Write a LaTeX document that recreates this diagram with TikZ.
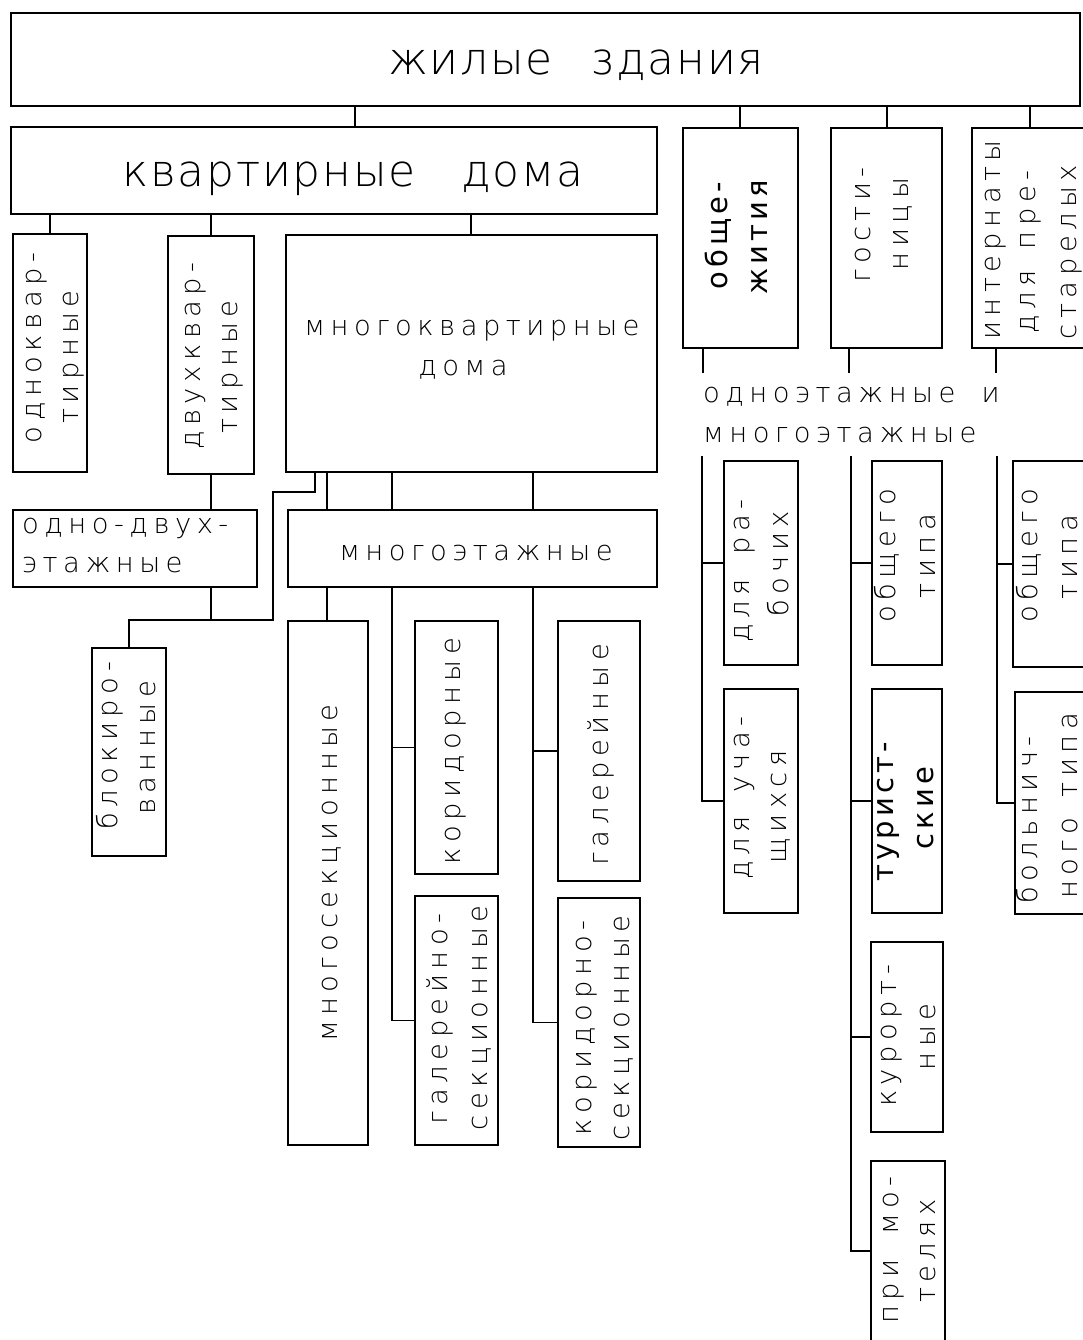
\documentclass[tikz,border=0pt]{standalone}
\usepackage{fontspec}
\IfFontExistsTF{DejaVu Sans ExtraLight}{%
  \newfontfamily\thinfont{DejaVu Sans ExtraLight}[LetterSpace=20]%
  \newfontfamily\bigfont{DejaVu Sans ExtraLight}[LetterSpace=4]%
}{%
  \newfontfamily\thinfont{DejaVu Sans}[LetterSpace=20]%
  \newfontfamily\bigfont{DejaVu Sans}[LetterSpace=4]%
}
\newfontfamily\heavyfont{DejaVu Sans}[LetterSpace=14]
\newcommand{\drawbox}[5]{%
  \pgfmathsetmacro{\bxcen}{(#2+#4)/2}%
  \pgfmathsetmacro{\bycen}{(#3+#5)/2}%
  \pgfmathsetmacro{\bwid}{#4-#2}%
  \pgfmathsetmacro{\bhei}{#5-#3}%
  \node[box, minimum width=\bwid pt, minimum height=\bhei pt] (#1) at (\bxcen,\bycen) {};}
\tikzset{
  box/.style={draw, line width=1.8pt, inner sep=0pt, outer sep=0pt},
  conn/.style={line width=1.8pt},
  txt/.style={inner sep=0pt, font=\thinfont\fontsize{27.4}{38}\selectfont},
  vtxt/.style={txt, rotate=90, anchor=base},
  htxt/.style={txt, anchor=base},
  btxt/.style={inner sep=0pt, rotate=90, anchor=base, font=\heavyfont\fontsize{29}{39}\selectfont},
  bigtxt/.style={inner sep=0pt, anchor=base, font=\bigfont\fontsize{44}{50}\selectfont}
}
\begin{document}
\begin{tikzpicture}[x=1pt,y=-1pt]
\useasboundingbox (0,0) rectangle (1082,1340);
\fill[white] (0,0) rectangle (1082,1340);
% boxes
\drawbox{T}{11}{13}{1080}{106}
\drawbox{K}{11}{127}{657}{214}
\drawbox{O}{683}{128}{798}{348}
\drawbox{G}{831}{128}{942}{348}
\drawbox{I}{972}{128}{1092}{348}
\drawbox{A1}{13}{234}{87}{472}
\drawbox{A2}{168}{236}{254}{474}
\drawbox{A3}{286}{235}{657}{472}
\drawbox{B1}{13}{510}{257}{587}
\drawbox{B2}{288}{510}{657}{587}
\drawbox{Bl}{92}{648}{166}{856}
\drawbox{C1}{288}{621}{368}{1145}
\drawbox{C2}{415}{621}{498}{874}
\drawbox{C3}{415}{896}{498}{1145}
\drawbox{C4}{558}{621}{640}{881}
\drawbox{C5}{558}{898}{640}{1147}
\drawbox{D1}{724}{461}{798}{665}
\drawbox{D2}{724}{689}{798}{913}
\drawbox{E1}{872}{461}{942}{665}
\drawbox{E2}{872}{689}{942}{913}
\drawbox{E3}{871}{942}{943}{1132}
\drawbox{E4}{871}{1161}{945}{1341}
\drawbox{F1}{1013}{461}{1092}{667}
\drawbox{F2}{1015}{692}{1092}{914}
% helper coordinates
\coordinate (x50) at (50,0);
\coordinate (x211) at (211,0);
\coordinate (x315) at (315,0);
\coordinate (x327) at (327,0);
\coordinate (x355) at (355,0);
\coordinate (x392) at (392,0);
\coordinate (x471) at (471,0);
\coordinate (x533) at (533,0);
\coordinate (x703) at (703,0);
\coordinate (x740) at (740,0);
\coordinate (x849) at (849,0);
\coordinate (x887) at (887,0);
\coordinate (x996) at (996,0);
\coordinate (x1030) at (1030,0);
\coordinate (k1) at (273,492);
\coordinate (k2) at (273,620);
\coordinate (o1) at (703,373);
\coordinate (o2) at (849,373);
\coordinate (o3) at (996,373);
\coordinate (r1) at (702,456);
\coordinate (r2) at (851,456);
\coordinate (r3) at (997,456);
% connectors
\draw[conn] (T.south -| x355) -- (K.north -| x355);
\draw[conn] (T.south -| x740) -- (O.north -| x740);
\draw[conn] (T.south -| x887) -- (G.north -| x887);
\draw[conn] (T.south -| x1030) -- (I.north -| x1030);
\draw[conn] (K.south -| x50) -- (A1.north -| x50);
\draw[conn] (K.south -| x211) -- (A2.north -| x211);
\draw[conn] (K.south -| x471) -- (A3.north -| x471);
\draw[conn] (A2.south -| x211) -- (B1.north -| x211);
\draw[conn] (A3.south -| x327) -- (B2.north -| x327);
\draw[conn] (A3.south -| x392) -- (B2.north -| x392);
\draw[conn] (A3.south -| x533) -- (B2.north -| x533);
\draw[conn] (A3.south -| x315) |- (k1) -- (k2) -| (Bl.north);
\draw[conn] (B1.south -| x211) |- (k2);
\draw[conn] (B2.south -| x327) -- (C1.north -| x327);
\draw[conn] (B2.south -| x392) |- (C3.west);
\draw[conn] (C2.west) -- (C2.west -| x392);
\draw[conn] (B2.south -| x533) |- (C5.west);
\draw[conn] (C4.west) -- (C4.west -| x533);
\draw[conn] (O.south -| x703) -- (o1);
\draw[conn] (G.south -| x849) -- (o2);
\draw[conn] (I.south -| x996) -- (o3);
\draw[conn] (r1) |- (D2.west);
\draw[conn] (D1.west) -- (D1.west -| r1);
\draw[conn] (r2) |- (E4.west);
\draw[conn] (E1.west) -- (E1.west -| r2);
\draw[conn] (E2.west) -- (E2.west -| r2);
\draw[conn] (E3.west) -- (E3.west -| r2);
\draw[conn] (r3) |- (F2.west);
\draw[conn] (F1.west) -- (F1.west -| r3);
% texts
\node[bigtxt] (tT) at (576,75) {жилые \hspace{22pt}здания};
\node[bigtxt] (tK) at (353,187) {квартирные \hspace{30pt}дома};
\node[vtxt] (tA1a) at (41,348) {одноквар-};
\node[vtxt] (tA1b) at (78,357) {тирные};
\node[vtxt] (tA2a) at (200,356) {двухквар-};
\node[vtxt] (tA2b) at (237,367) {тирные};
\node[htxt] (tA3a) at (472,335) {многоквартирные};
\node[htxt] (tA3b) at (463,375) {дома};
\node[htxt, anchor=base west] (tB1a) at (22,533) {одно-двух-};
\node[htxt, anchor=base west] (tB1b) at (22,572) {этажные};
\node[htxt] (tB2) at (476,560) {многоэтажные};
\node[vtxt] (tBla) at (117,746) {блокиро-};
\node[vtxt] (tBlb) at (155,748) {ванные};
\node[vtxt] (tC1) at (337,873) {многосекционные};
\node[vtxt] (tC2) at (460,751) {коридорные};
\node[vtxt] (tC3a) at (447,1019) {галерейно-};
\node[vtxt] (tC3b) at (487,1018) {секционные};
\node[vtxt] (tC4) at (608,755) {галерейные};
\node[vtxt] (tC5a) at (591,1028) {коридорно-};
\node[vtxt] (tC5b) at (629,1028) {секционные};
\node[btxt] (tOa) at (727,236) {обще-};
\node[btxt] (tOb) at (767,237) {жития};
\node[vtxt] (tGa) at (870,225) {гости-};
\node[vtxt] (tGb) at (908,224) {ницы};
\node[vtxt] (tIa) at (1000,240) {интернаты};
\node[vtxt] (tIb) at (1035,252) {для \hspace{7pt}пре-};
\node[vtxt] (tIc) at (1076,252) {старелых};
\node[htxt, anchor=base west] (tMa) at (703,402) {одноэтажные \hspace{12pt}и};
\node[htxt, anchor=base west] (tMb) at (703,442) {многоэтажные};
\node[vtxt] (tD1a) at (749,571) {для \hspace{10pt}ра-};
\node[vtxt] (tD1b) at (788,564) {бочих};
\node[vtxt] (tD2a) at (749,798) {для \hspace{10pt}уча-};
\node[vtxt] (tD2b) at (786,807) {щихся};
\node[vtxt] (tE1a) at (895,556) {общего};
\node[vtxt] (tE1b) at (935,556) {типа};
\node[btxt] (tE2a) at (893,812) {турист-};
\node[btxt] (tE2b) at (933,808) {ские};
\node[vtxt] (tE3a) at (896,1036) {курорт-};
\node[vtxt] (tE3b) at (935,1037) {ные};
\node[vtxt] (tE4a) at (898,1250) {при \hspace{10pt}мо-};
\node[vtxt] (tE4b) at (935,1251) {телях};
\node[vtxt] (tF1a) at (1037,556) {общего};
\node[vtxt] (tF1b) at (1077,557) {типа};
\node[vtxt] (tF2a) at (1037,820) {больнич-};
\node[vtxt] (tF2b) at (1077,806) {ного \hspace{6pt}типа};
\end{tikzpicture}
\end{document}
